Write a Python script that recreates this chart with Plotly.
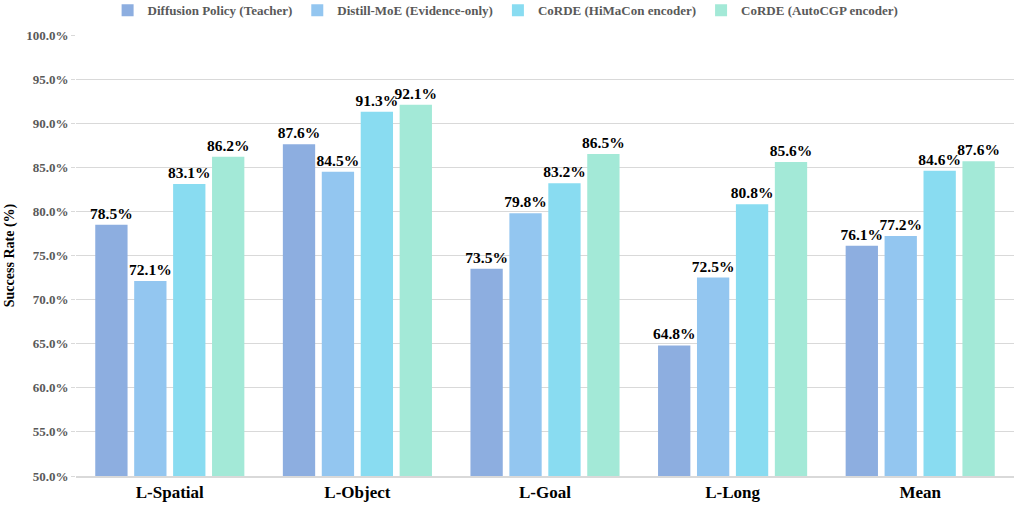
import plotly.graph_objects as go

categories = ["L-Spatial", "L-Object", "L-Goal", "L-Long", "Mean"]
series_names = ["Diffusion Policy (Teacher)", "Distill-MoE (Evidence-only)",
                "CoRDE (HiMaCon encoder)", "CoRDE (AutoCGP encoder)"]
values = [
    [78.5, 87.6, 73.5, 64.8, 76.1],
    [72.1, 84.5, 79.8, 72.5, 77.2],
    [83.1, 91.3, 83.2, 80.8, 84.6],
    [86.2, 92.1, 86.5, 85.6, 85.7],
]
labels = [
    ["78.5%", "87.6%", "73.5%", "64.8%", "76.1%"],
    ["72.1%", "84.5%", "79.8%", "72.5%", "77.2%"],
    ["83.1%", "91.3%", "83.2%", "80.8%", "84.6%"],
    ["86.2%", "92.1%", "86.5%", "85.6%", "87.6%"],
]
colors = ["#8DAEE0", "#93C6F0", "#89DCF1", "#A3E9D7"]
yticks = [50, 55, 60, 65, 70, 75, 80, 85, 90, 95, 100]

FONT = "Liberation Serif"

fig = go.Figure()
for name, vals, labs, col in zip(series_names, values, labels, colors):
    fig.add_trace(go.Bar(
        x=categories, y=vals, name=name, text=labs,
        textposition="outside", cliponaxis=False, constraintext="none",
        textfont=dict(family=FONT, size=15.5, color="#000000", weight="bold"),
        marker=dict(color=col, line=dict(width=0)),
    ))

fig.update_layout(
    width=1021, height=512,
    margin=dict(l=76, r=7, t=35, b=36, autoexpand=False),
    barmode="group", bargap=0.17, bargroupgap=0.17,
    plot_bgcolor="white", paper_bgcolor="white",
    font=dict(family=FONT, weight="bold"),
    legend=dict(orientation="h", x=0.458, xanchor="center", y=1.09, yanchor="top",
                yref="paper", font=dict(family=FONT, size=13, color="#595959", weight="bold"),
                itemwidth=30, traceorder="normal"),
    showlegend=True,
)
fig.update_xaxes(
    showline=True, linecolor="#D9D9D9", linewidth=1.5,
    tickfont=dict(family=FONT, size=17, color="#000000", weight="bold"),
    ticks="", showgrid=False,
)
fig.update_yaxes(
    range=[50, 100], tickvals=yticks, ticktext=[f"{v:.1f}%" for v in yticks],
    showgrid=True, gridcolor="#D9D9D9", gridwidth=1, zeroline=False,
    tickfont=dict(family=FONT, size=13, color="#595959", weight="bold"),
    title=dict(text="Success Rate (%)", font=dict(family=FONT, size=14, color="#000000", weight="bold"), standoff=8),
    ticks="outside", ticklen=4, tickcolor="#D9D9D9",
)
fig.write_html("out.html")
